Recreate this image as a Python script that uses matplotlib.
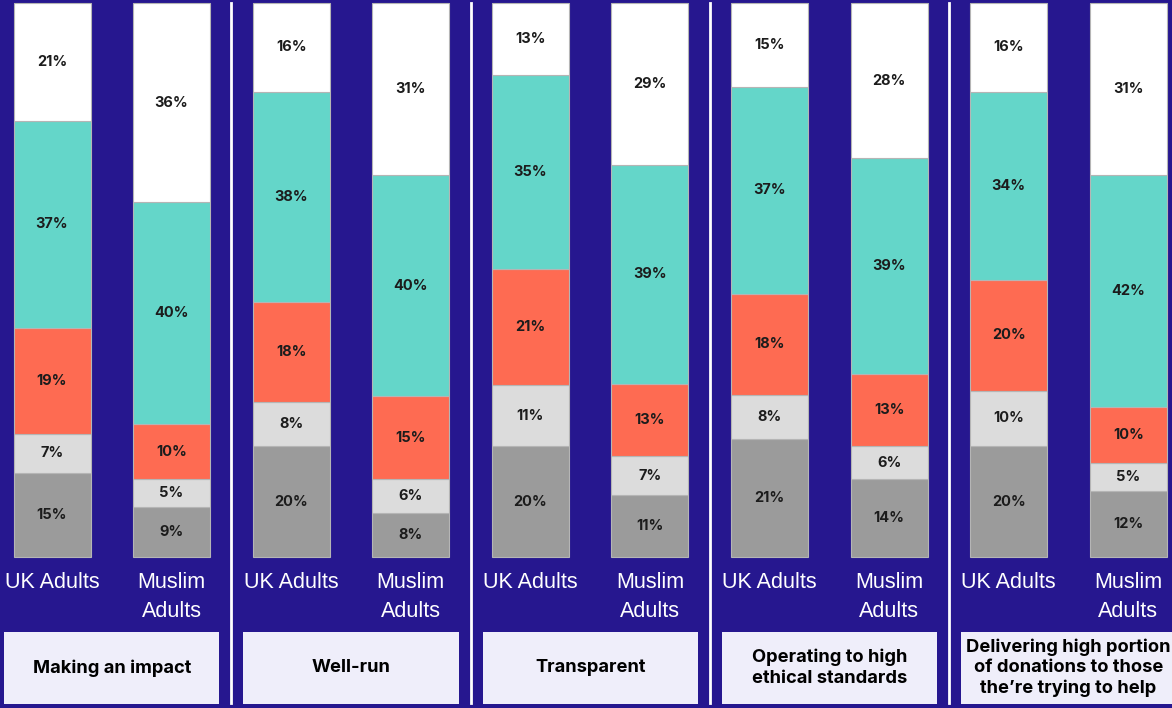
import numpy as np
import matplotlib.pyplot as plt
from matplotlib.patches import Rectangle

# survey data, bottom segment first
categories = ["Making an impact", "Well-run", "Transparent",
              "Operating to high\nethical standards",
              "Delivering high portion\nof donations to those\nthe\u2019re trying to help"]
groups = ["UK Adults", "Muslim\nAdults"]

seg_grey = [15, 9, 20, 8, 20, 11, 21, 14, 20, 12]
seg_light = [7, 5, 8, 6, 11, 7, 8, 6, 10, 5]
seg_coral = [19, 10, 18, 15, 21, 13, 18, 13, 20, 10]
seg_teal = [37, 40, 38, 40, 35, 39, 37, 39, 34, 42]
seg_white = [21, 36, 16, 31, 13, 29, 15, 28, 16, 31]

bg = "#26178f"
colours = ["#9b9b9b", "#dcdcdc", "#fe6b52", "#64d6c9", "#ffffff"]

plt.rcParams['font.family'] = ['Inter', 'DejaVu Sans']

fig = plt.figure(figsize=(11.72, 7.08), dpi=100, facecolor=bg)
ax = fig.add_axes([0, 0, 1, 1])
ax.set_facecolor(bg)
ax.set_xlim(-0.435, 9.365)
ax.set_ylim(-27.26, 100.54)
ax.axis("off")

x = np.arange(10)
series = np.array([seg_grey, seg_light, seg_coral, seg_teal, seg_white], dtype=float)
totals = series.sum(axis=0)
scaled = series / totals * 100

bottom = np.zeros(10)
for vals, sc, col in zip(series, scaled, colours):
    ax.bar(x, sc, width=0.644, bottom=bottom, color=col,
           edgecolor="#b5b5b5", linewidth=0.8)
    for xi, b, h, v in zip(x, bottom, sc, vals):
        ax.text(xi, b + h / 2, f"{int(v)}%", ha="center", va="center",
                fontsize=10.5, fontweight="bold", color="#1c1c1c")
    bottom += sc

# bar labels under each bar
for xi in x:
    ax.text(xi, -2.8, groups[xi % 2], ha="center", va="top",
            fontsize=15.5, color="white", linespacing=1.45,
            family=['Liberation Sans', 'DejaVu Sans'])

# separators between the categories
for sx in [1.5, 3.5, 5.5, 7.5]:
    ax.plot([sx, sx], [-26.35, 100], color="white", lw=2)

# category boxes
for i, cat in enumerate(categories):
    cx = 2 * i + 0.5
    ax.add_patch(Rectangle((cx - 0.9, -26.5), 1.8, 13.0,
                           facecolor="#efeefa", edgecolor="none"))
    ax.text(cx, -20.0, cat, ha="center", va="center", fontsize=13.2,
            fontweight="bold", color="black", linespacing=1.25)

fig.savefig("out.png", dpi=100, facecolor=bg)
